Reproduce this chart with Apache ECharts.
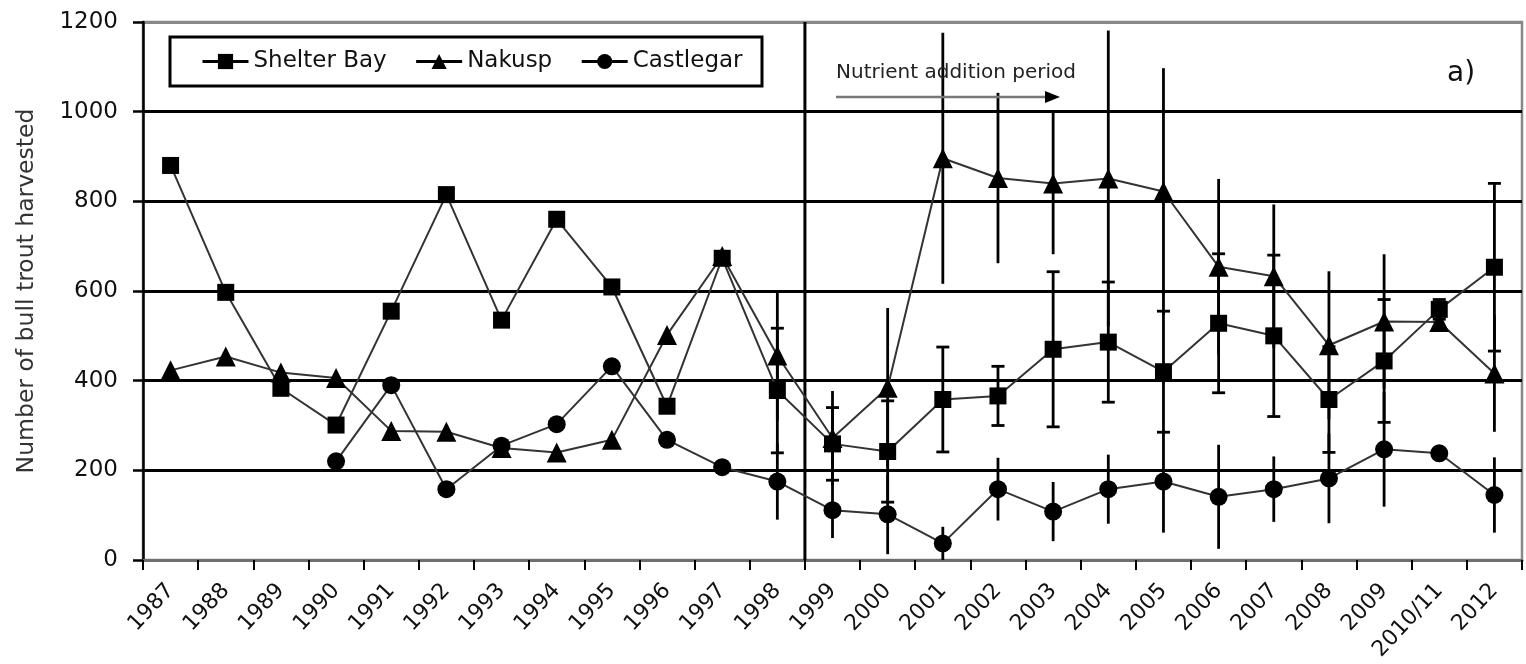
<!DOCTYPE html>
<html><head><meta charset="utf-8">
<script src="https://cdn.jsdelivr.net/npm/echarts@6/dist/echarts.min.js"></script>
<style>html,body{margin:0;padding:0;background:#fff}#c{width:1526px;height:664px}</style>
</head><body><div id="c"></div>
<script>
// ---- data ----
const categories = ['1987','1988','1989','1990','1991','1992','1993','1994','1995','1996','1997','1998','1999','2000','2001','2002','2003','2004','2005','2006','2007','2008','2009','2010/11','2012'];
const shelterBay = [880,597,383,301,555,815,535,760,609,343,673,378,259,242,358,366,470,486,420,528,500,358,444,559,653];
const nakusp     = [423,454,418,406,288,286,250,240,268,502,678,456,272,384,896,852,840,851,822,654,633,479,532,531,416];
const castlegar  = [null,null,null,220,390,158,255,303,432,268,207,175,111,102,37,158,108,158,175,141,158,182,247,238,145];
const shelterErr = [null,null,null,null,null,null,null,null,null,null,null,139,81,113,117,66,173,134,135,155,180,118,137,22,187];
const nakuspErr  = [null,null,null,null,null,null,null,null,null,null,null,145,105,178,280,190,158,330,275,196,160,165,150,null,130];
const castlegarErr=[null,null,null,null,null,null,null,null,null,null,null,85,62,89,37,70,66,77,114,116,73,100,128,null,84];
const yMin = 0, yMax = 1200, yStep = 200;
const seriesNames = ['Shelter Bay','Nakusp','Castlegar'];

function errData(vals, errs){
  const out = [];
  categories.forEach((c,i)=>{
    if (vals[i] != null && errs[i] != null) out.push([i, vals[i]-errs[i], vals[i]+errs[i]]);
  });
  return out;
}
function makeRender(cap){
  return function(params, api){
    const x = api.value(0);
    const lo = api.coord([x, Math.max(api.value(1), yMin)]);
    const hi = api.coord([x, Math.min(api.value(2), yMax)]);
    const st = {stroke:'#000', lineWidth:2.8};
    const ch = [{type:'line', shape:{x1:lo[0],y1:lo[1],x2:hi[0],y2:hi[1]}, style:st}];
    if (cap){
      const w = 6.5;
      ch.push({type:'line', shape:{x1:hi[0]-w,y1:hi[1],x2:hi[0]+w,y2:hi[1]}, style:st});
      ch.push({type:'line', shape:{x1:lo[0]-w,y1:lo[1],x2:lo[0]+w,y2:lo[1]}, style:st});
    }
    return {type:'group', children:ch};
  };
}

const chart = echarts.init(document.getElementById('c'), null, {renderer:'canvas'});
const lineCol = '#333';
const font = 'DejaVu Sans';
const option = {
  animation:false,
  textStyle:{fontFamily:font},
  grid:{left:143, right:4, top:22, bottom:104, show:true, borderColor:'#888', borderWidth:2.5, backgroundColor:'transparent'},
  legend:{
    data:seriesNames, left:201, top:50, padding:0, itemWidth:46, itemHeight:19, itemGap:28,
    selectedMode:false,
    textStyle:{fontSize:23, color:'#111', fontFamily:font},
    lineStyle:{color:'#000', width:3}
  },
  xAxis:{
    type:'category', data:categories, boundaryGap:true,
    axisLine:{show:true, lineStyle:{color:'#6e6e6e', width:3}},
    axisTick:{show:true, length:10, lineStyle:{color:'#000', width:2}},
    axisLabel:{rotate:47, fontSize:22, color:'#111', margin:27, interval:0, fontFamily:font},
    splitLine:{show:false}
  },
  yAxis:{
    type:'value', min:yMin, max:yMax, interval:yStep,
    name:'Number of bull trout harvested', nameLocation:'middle', nameGap:104,
    nameTextStyle:{fontSize:23.5, color:'#333', fontFamily:font},
    axisLine:{show:true, lineStyle:{color:'#000', width:2.5}},
    axisTick:{show:true, length:10, lineStyle:{color:'#000', width:2.5}},
    axisLabel:{fontSize:23, color:'#111', margin:25, fontFamily:font, formatter:(v)=>String(v)},
    splitLine:{show:true, lineStyle:{color:['#000','#000','#000','#000','#000','#000','#888'], width:3}}
  },
  series:[
    {type:'custom', name:'errSB', data:errData(shelterBay, shelterErr), renderItem:makeRender(true), encode:{x:0,y:[1,2]}, z:2, clip:true},
    {type:'custom', name:'errNK', data:errData(nakusp, nakuspErr), renderItem:makeRender(false), encode:{x:0,y:[1,2]}, z:2, clip:true},
    {type:'custom', name:'errCG', data:errData(castlegar, castlegarErr), renderItem:makeRender(false), encode:{x:0,y:[1,2]}, z:2, clip:true},
    {name:'Shelter Bay', type:'line', data:shelterBay, symbol:'rect', symbolSize:17,
      lineStyle:{color:lineCol, width:2}, itemStyle:{color:'#000'}, z:3},
    {name:'Nakusp', type:'line', data:nakusp, symbol:'triangle', symbolSize:20,
      lineStyle:{color:lineCol, width:2}, itemStyle:{color:'#000'}, z:3},
    {name:'Castlegar', type:'line', data:castlegar, symbol:'circle', symbolSize:18,
      lineStyle:{color:lineCol, width:2}, itemStyle:{color:'#000'}, z:3}
  ]
};
chart.setOption(option);

const x98 = chart.convertToPixel({xAxisIndex:0}, '1998');
const x99 = chart.convertToPixel({xAxisIndex:0}, '1999');
const xd = (x98 + x99) / 2;
const yTop = chart.convertToPixel({yAxisIndex:0}, yMax);
const yBot = chart.convertToPixel({yAxisIndex:0}, yMin);
chart.setOption({
  graphic:[
    {type:'line', shape:{x1:xd, y1:yTop, x2:xd, y2:yBot}, style:{stroke:'#000', lineWidth:3}, z:1},
    {type:'rect', shape:{x:170, y:37, width:592, height:49}, style:{fill:'#fff', stroke:'#000', lineWidth:3}, z:0},
    {type:'text', x:836, y:73, style:{text:'Nutrient addition period', fontSize:20, fontFamily:font, fill:'#222', verticalAlign:'middle'}, z:5},
    {type:'line', shape:{x1:836, y1:97, x2:1048, y2:97}, style:{stroke:'#777', lineWidth:2.5}, z:5},
    {type:'polygon', shape:{points:[[1045,91],[1060,97],[1045,103]]}, style:{fill:'#000'}, z:5},
    {type:'text', x:1447, y:74, style:{text:'a)', fontSize:28, fontFamily:font, fill:'#111', verticalAlign:'middle'}, z:5}
  ]
});
</script></body></html>
